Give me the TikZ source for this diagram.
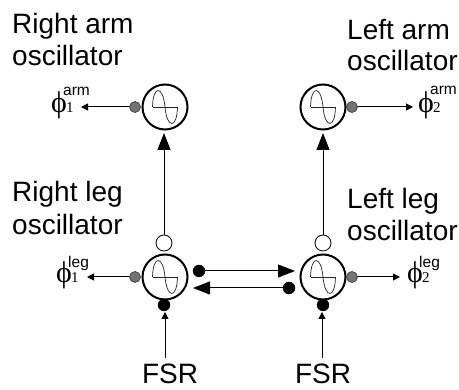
\documentclass[tikz,border=0pt]{standalone}
\usepackage{fontspec}
\setmainfont{Liberation Sans}
\newfontfamily\phifont{Liberation Serif}
\usetikzlibrary{arrows.meta,calc}
\tikzset{
  x=1pt,y=-1pt,
  label text/.style={font=\fontsize{28}{28}\selectfont,anchor=base west,inner sep=0pt,text=black},
  fsr text/.style={font=\fontsize{28}{28}\selectfont,anchor=base,inner sep=0pt,text=black},
  osc/.style={circle,draw=black,line width=2pt,minimum size=45pt,inner sep=0pt,fill=white},
  gray dot/.style={circle,draw=black!75,line width=0.7pt,fill=black!55,minimum size=11pt,inner sep=0pt},
  black dot/.style={circle,fill=black,draw=black,minimum size=12pt,inner sep=0pt},
  white dot/.style={circle,fill=white,draw=black,line width=0.8pt,minimum size=16pt,inner sep=0pt},
  link/.style={draw=black,line width=1pt},
  big arrow/.style={link,-{Triangle[length=17pt,width=13pt]}},
  small arrow/.style={link,-{Triangle[length=7pt,width=7pt]}},
  wave/.style={line width=0.7pt,draw=black!85},
  phi text/.style={inner sep=0pt,anchor=base west}
}
\newcommand{\phisym}[3]{%
  \rlap{\fontsize{30}{30}\selectfont\phifont ϕ}%
  \kern12pt\rlap{\raisebox{#3}{\fontsize{15.5}{15.5}\selectfont #2}}%
  \kern3pt{\fontsize{15}{15}\selectfont\phifont #1}}
\newcommand{\sinewave}[1]{%
  \draw[wave] ($(#1)+(-12.5,0)$) -- ($(#1)+(12.5,0)$);
  \draw[wave,shift={(#1)}] (-12.5,0) .. controls (-12,-22) and (-2,-22) .. (0,0)
     .. controls (2,22) and (12,22) .. (12.5,0);
}
\begin{document}
\begin{tikzpicture}
\useasboundingbox (0,0) rectangle (459,390);
\node[osc] (ra) at (165,107) {};
\node[osc] (rl) at (165,277) {};
\node[osc] (la) at (323,107) {};
\node[osc] (ll) at (323,277) {};
\sinewave{ra}\sinewave{rl}\sinewave{la}\sinewave{ll}
\node[gray dot] (gra) at (135,107) {};
\node[gray dot] (grl) at (135,277) {};
\node[gray dot] (gla) at (352,107) {};
\node[gray dot] (gll) at (352,277) {};
\coordinate (pra) at (81,107);
\coordinate (prl) at (87,277);
\coordinate (pla) at (413,107);
\coordinate (pll) at (400,277);
\draw[small arrow] (gra) -- (pra);
\draw[small arrow] (grl) -- (prl);
\draw[small arrow] (gla) -- (pla);
\draw[small arrow] (gll) -- (pll);
\node[white dot] (wr) at (164,243) {};
\node[white dot] (wl) at (323,243) {};
\coordinate (tr) at (164,133);
\coordinate (tl) at (323,133);
\draw[big arrow] (wr) -- (tr);
\draw[big arrow] (wl) -- (tl);
\node[black dot] (br) at (164,305) {};
\node[black dot] (bl) at (323,305) {};
\node[fsr text] (fr) at (170,383.5) {FSR};
\node[fsr text] (fl) at (323,383.5) {FSR};
\coordinate (ar) at (165,312);
\coordinate (al) at (322,312);
\coordinate (sr) at (165,358);
\coordinate (sl) at (322,358);
\draw[small arrow] (sr) -- (ar);
\draw[small arrow] (sl) -- (al);
\node[black dot] (d1) at (199,271) {};
\coordinate (t1) at (295,271);
\draw[big arrow] (d1) -- (t1);
\node[black dot] (d2) at (289,288) {};
\coordinate (t2) at (193,288);
\draw[big arrow] (d2) -- (t2);
\node[label text] (l1) at (12,34) {Right arm};
\node[label text] (l2) at (12,66) {oscillator};
\node[label text] (l3) at (347,40) {Left arm};
\node[label text] (l4) at (347,71) {oscillator};
\node[label text] (l5) at (12,202) {Right leg};
\node[label text] (l6) at (12,235) {oscillator};
\node[label text] (l7) at (347,209) {Left leg};
\node[label text] (l8) at (347,241) {oscillator};
\node[phi text] (p1) at (51,113) {\phisym{1}{arm}{17pt}};
\node[phi text] (p2) at (56,283) {\phisym{1}{leg}{15pt}};
\node[phi text] (p3) at (418,113) {\phisym{2}{arm}{18pt}};
\node[phi text] (p4) at (407,283) {\phisym{2}{leg}{15pt}};
\end{tikzpicture}
\end{document}
